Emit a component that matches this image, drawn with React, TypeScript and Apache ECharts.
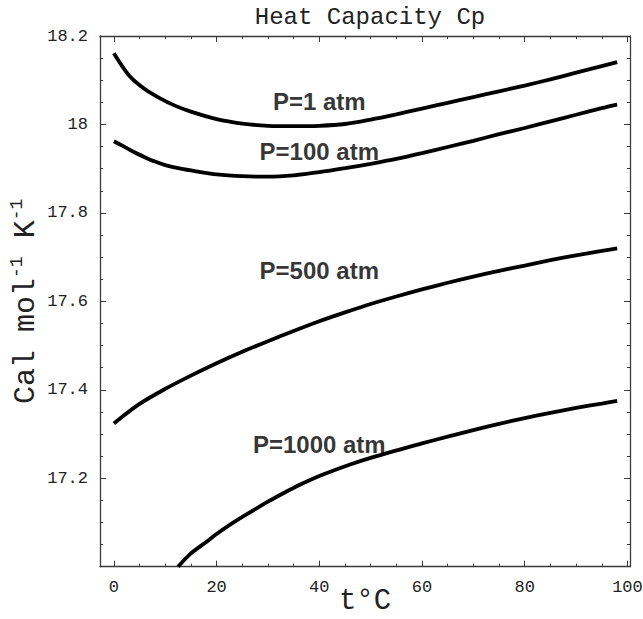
import React, { useEffect, useRef } from "react";
import * as echarts from "echarts";

// ---- data ----
const tP1 = [0, 3, 6, 9, 12, 15, 20, 25, 30, 35, 40, 45, 50, 55, 60, 65, 70, 75, 80, 85, 90, 95, 98];
const cpP1 = [18.161, 18.11, 18.08, 18.059, 18.042, 18.029, 18.012, 18.002, 17.997, 17.996, 17.997, 18.001, 18.011, 18.023, 18.036, 18.049, 18.062, 18.075, 18.088, 18.102, 18.117, 18.132, 18.141];

const tP100 = [0, 2, 4, 6, 8, 10, 13, 16, 20, 25, 30, 35, 40, 45, 50, 55, 60, 65, 70, 75, 80, 85, 90, 95, 98];
const cpP100 = [17.962, 17.95, 17.937, 17.926, 17.916, 17.908, 17.9, 17.894, 17.887, 17.883, 17.882, 17.885, 17.892, 17.901, 17.911, 17.922, 17.935, 17.949, 17.963, 17.978, 17.992, 18.007, 18.022, 18.037, 18.045];

const tP500 = [0, 5, 10, 15, 20, 25, 30, 35, 40, 45, 50, 55, 60, 65, 70, 75, 80, 85, 90, 95, 98];
const cpP500 = [17.324, 17.368, 17.402, 17.432, 17.46, 17.486, 17.51, 17.533, 17.555, 17.575, 17.594, 17.611, 17.627, 17.642, 17.656, 17.669, 17.681, 17.693, 17.704, 17.714, 17.72];

const tP1000 = [12.5, 15, 18, 20, 23, 26.5, 30, 33, 36, 40, 46, 50, 56, 60, 65, 70, 75, 80, 85, 90, 95, 98];
const cpP1000 = [17.0, 17.03, 17.056, 17.074, 17.098, 17.123, 17.147, 17.166, 17.184, 17.205, 17.231, 17.246, 17.266, 17.279, 17.294, 17.309, 17.323, 17.336, 17.348, 17.359, 17.369, 17.375];

const curveNames = ["P=1 atm", "P=100 atm", "P=500 atm", "P=1000 atm"];
const labelT = [40, 40, 40, 40];
const labelCp = [18.052, 17.938, 17.669, 17.277];

const xMajor = [0, 20, 40, 60, 80, 100];
const xMinor = [5, 10, 15, 25, 30, 35, 45, 50, 55, 65, 70, 75, 85, 90, 95];
const xMin = -2.7;
const xMax = 100.5;
const yMin = 17.0;
const yMax = 18.2;

const mono = "'Courier New', 'Liberation Mono', monospace";
const frameColor = "#3a3a3a";

function zip(a: number[], b: number[]) {
  return a.map((v, i) => [v, b[i]]);
}

export default function App() {
  const ref = useRef<HTMLDivElement>(null);
  useEffect(() => {
    if (!ref.current) return;
    const chart = echarts.init(ref.current, null, { renderer: "svg" });
    const gridPos = { left: 100, top: 36, width: 530, height: 530.7 };
    const xBase = (pos: string, gridIndex: number, major: boolean, withLine: boolean, labels: boolean) => ({
      type: "value",
      gridIndex,
      position: pos,
      min: xMin,
      max: xMax,
      axisLine: { show: withLine, onZero: false, lineStyle: { color: frameColor, width: 1.3 } },
      axisTick: {
        show: true,
        inside: true,
        length: major ? 6 : 3,
        customValues: major ? xMajor : xMinor,
        lineStyle: { color: frameColor, width: 1 },
      },
      axisLabel: labels
        ? { show: true, customValues: xMajor, fontFamily: mono, fontSize: 17, color: "#222", margin: 12 }
        : { show: false },
      splitLine: { show: false },
    });
    const yBase = (pos: string, gridIndex: number, labels: boolean) => ({
      type: "value",
      gridIndex,
      position: pos,
      min: yMin,
      max: yMax,
      interval: 0.2,
      axisLine: { show: true, onZero: false, lineStyle: { color: frameColor, width: 1.3 } },
      axisTick: { show: true, inside: true, length: 6, lineStyle: { color: frameColor, width: 1 } },
      minorTick: { show: true, splitNumber: 4, length: 3, lineStyle: { color: frameColor, width: 1 } },
      axisLabel: labels
        ? { show: true, showMinLabel: false, fontFamily: mono, fontSize: 17, color: "#222", margin: 12 }
        : { show: false },
      splitLine: { show: false },
      minorSplitLine: { show: false },
    });

    const xAxes: any[] = [
      {
        ...xBase("bottom", 0, true, true, true),
        name: "t\u00B0C",
        nameLocation: "middle",
        nameGap: 20,
        nameMoveOverlap: false,
        nameTextStyle: { fontFamily: mono, fontSize: 29, color: "#222" },
      },
      xBase("top", 0, true, true, false),
      xBase("bottom", 1, false, false, false),
      xBase("top", 1, false, false, false),
    ];
    const yAxes: any[] = [
      {
        ...yBase("left", 0, true),
        name: "Cal mol{s|-1} K{s|-1}",
        nameLocation: "middle",
        nameGap: 56,
        nameRotate: 90,
        nameMoveOverlap: false,
        nameTextStyle: {
          fontFamily: mono,
          fontSize: 30,
          color: "#222",
          rich: {
            s: { fontFamily: mono, fontSize: 18, color: "#222", verticalAlign: "top", lineHeight: 36 },
          },
        },
      },
      yBase("right", 0, false),
    ];

    const lineStyle = { color: "#000", width: 3.8 };
    const tArrs = [tP1, tP100, tP500, tP1000];
    const cpArrs = [cpP1, cpP100, cpP500, cpP1000];
    const series: any[] = tArrs.map((t, i) => ({
      type: "line",
      name: curveNames[i],
      xAxisIndex: 0,
      yAxisIndex: 0,
      data: zip(t, cpArrs[i]),
      showSymbol: false,
      smooth: 0.3,
      lineStyle,
      clip: true,
      z: 3,
    }));
    series.push({
      type: "scatter",
      xAxisIndex: 0,
      yAxisIndex: 0,
      symbolSize: 0,
      data: labelT.map((t, i) => ({ value: [t, labelCp[i]], name: curveNames[i] })),
      label: {
        show: true,
        position: "inside",
        formatter: (p: any) => p.name,
        fontFamily: "'Liberation Sans', Arial, sans-serif",
        fontWeight: "bold",
        fontSize: 24,
        color: "#000",
        textBorderWidth: 0,
      },
      z: 5,
    });

    chart.setOption({
      animation: false,
      backgroundColor: "#fff",
      title: {
        text: "Heat Capacity Cp",
        left: 365,
        top: 0,
        textAlign: "center",
        textStyle: { fontFamily: mono, fontSize: 24, fontWeight: "normal", color: "#222" },
      },
      grid: [
        { ...gridPos, containLabel: false, outerBoundsMode: "none" },
        { ...gridPos, containLabel: false, outerBoundsMode: "none" },
      ],
      xAxis: xAxes,
      yAxis: [
        ...yAxes,
        { type: "value", gridIndex: 1, min: yMin, max: yMax, show: false },
      ],
      series,
    });
    return () => chart.dispose();
  }, []);
  return (
    <div
      ref={ref}
      style={{ position: "absolute", left: 0, top: 0, width: 643, height: 619 }}
    />
  );
}
